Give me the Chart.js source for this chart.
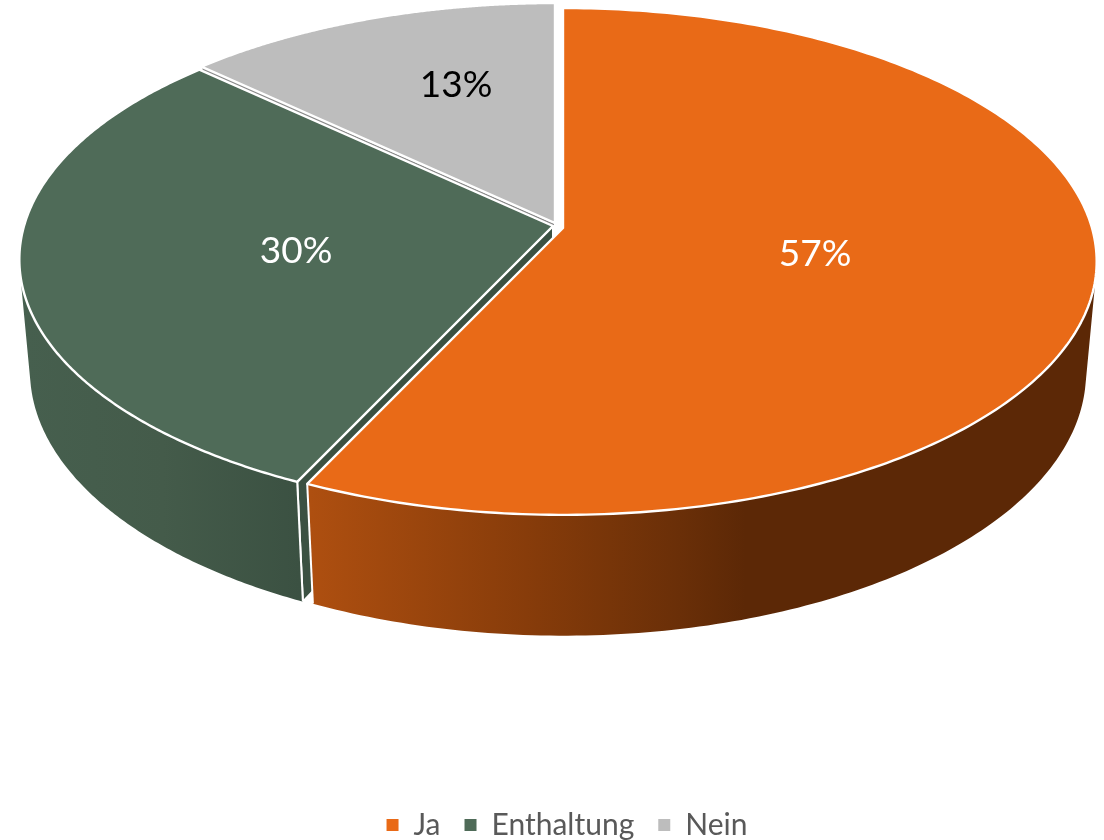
<!DOCTYPE html>
<html><head><meta charset="utf-8">
<style>html,body{margin:0;padding:0;background:#fff}canvas{display:block}</style>
<script src="https://cdn.jsdelivr.net/npm/chart.js@4"></script>
</head><body><canvas id="c" width="1104" height="840"></canvas>
<script>
const categories = ['Ja','Enthaltung','Nein'];
const values = [57,30,13];
const topColors = ['#E96A17','#4F6B58','#BDBDBD'];
const labelColors = ['#ffffff','#ffffff','#000000'];
const faceColors = ['#5c2806','#3b5142','#8a8a8a'];
const wallStops = [
  [[0,'#AE4F10'],[0.5,'#873C0A'],[0.85,'#6A2F08'],[1,'#5C2806']],
  [[0,'#465F4E'],[0.5,'#445B4A'],[1,'#3B5142']],
  [[0,'#8a8a8a'],[1,'#8a8a8a']]
];
const wallRanges = [[310,745],[25,300],[0,1]];

// 3D projection of the pie plane
const view = {x0:558,y0:225,B:529,A:249,C:113,k:-0.132,m:0.02};
const sliceShift = [[5,3],[-5,1],[-3,-2]];
const labelAt = [[815,254],[296,251],[456,85]];

function P(i,r,th,z){
  const u=r*Math.sin(th), v=-r*Math.cos(th);
  const w=1+view.k*v+view.m*z;
  return [view.x0+sliceShift[i][0]+view.B*u/w, view.y0+sliceShift[i][1]+(view.A*v+view.C*z)/w];
}
function trace(ctx,pts){ctx.beginPath();pts.forEach((p,n)=>n?ctx.lineTo(p[0],p[1]):ctx.moveTo(p[0],p[1]));ctx.closePath();}
function arcPts(i,a,b,z){const pts=[],N=240;for(let n=0;n<=N;n++){pts.push(P(i,1,a+(b-a)*n/N,z));}return pts;}
function area(q){let s=0;q.forEach((p,n)=>{const r=q[(n+1)%q.length];s+=p[0]*r[1]-r[0]*p[1];});return s;}

const pie3d={id:'pie3d',
  afterLayout(chart){const l=chart.legend;l.top+=10;l.bottom+=10;l.left+=15;l.right+=15;},
  beforeDatasetsDraw(chart){
    const ctx=chart.ctx, arcs=chart.getDatasetMeta(0).data;
    const ang=arcs.map(a=>[a.startAngle+Math.PI/2,a.endAngle+Math.PI/2]);
    ctx.save();ctx.lineJoin='round';
    [2,1,0].forEach(i=>{
      const [a,b]=ang[i];
      const pole=z=>P(i,0,0,z);
      ctx.strokeStyle='#fff';ctx.lineWidth=2;
      if(Math.sin(a)<-1e-3){
        trace(ctx,[pole(0),P(i,1,a,0),P(i,1,a,1),pole(1)]);
        ctx.fillStyle=faceColors[i];ctx.fill();ctx.stroke();
      }
      // outer wall: all steps in one path, same winding, so the fill has no seams
      const g=ctx.createLinearGradient(wallRanges[i][0],0,wallRanges[i][1],0);
      wallStops[i].forEach(s=>g.addColorStop(s[0],s[1]));
      const t=arcPts(i,a,b,0), d=arcPts(i,a,b,1);
      ctx.beginPath();
      for(let n=0;n<t.length-1;n++){
        let q=[t[n],t[n+1],d[n+1],d[n]];
        if(area(q)<0) q=q.reverse();
        q.forEach((p,m)=>m?ctx.lineTo(p[0],p[1]):ctx.moveTo(p[0],p[1]));
        ctx.closePath();
      }
      ctx.fillStyle=g;ctx.fill('nonzero');
      [[t[0],d[0]],[t[t.length-1],d[d.length-1]]].forEach(e=>{
        ctx.beginPath();ctx.moveTo(e[0][0],e[0][1]);ctx.lineTo(e[1][0],e[1][1]);ctx.stroke();});
      // top
      trace(ctx,[pole(0)].concat(t));
      ctx.fillStyle=topColors[i];ctx.fill();ctx.lineWidth=2.4;ctx.stroke();
    });
    ctx.font='37px Lato';ctx.textAlign='center';ctx.textBaseline='middle';
    const total=values.reduce((s,v)=>s+v,0);
    values.forEach((v,i)=>{ctx.fillStyle=labelColors[i];
      ctx.fillText(Math.round(v/total*100)+'%',labelAt[i][0],labelAt[i][1]);});
    ctx.restore();
    return false;
  }
};
new Chart(document.getElementById('c'),{
  type:'pie',
  data:{labels:categories,datasets:[{data:values,backgroundColor:topColors,borderWidth:0}]},
  options:{responsive:false,animation:false,
    plugins:{tooltip:{enabled:false},
      legend:{position:'bottom',labels:{boxWidth:12,boxHeight:12,padding:24,color:'#595959',font:{family:'Lato',size:30}}}}},
  plugins:[pie3d]
});
</script></body></html>
